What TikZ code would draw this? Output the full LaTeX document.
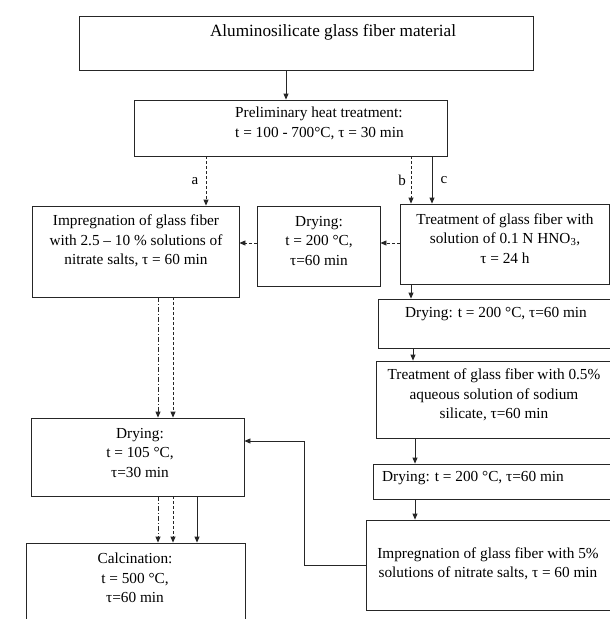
\documentclass[tikz,border=0pt]{standalone}
\usepackage{fontspec}
\setmainfont{Liberation Serif}
\usetikzlibrary{arrows.meta,fit}
\begin{document}
\begin{tikzpicture}[x=1pt,y=-1pt,
  boxst/.style={draw=black!85, line width=0.8pt, inner sep=0pt, fit={#1}},
  txt/.style={inner sep=0pt, align=center, font=\fontsize{15.3}{19.5}\selectfont},
  arr/.style={draw=black!85, line width=0.8pt, -{Triangle[length=6pt,width=5pt]}},
  dsh/.style={arr, dash pattern=on 3pt off 2pt},
  dshdot/.style={arr, dash pattern=on 5pt off 2pt on 1pt off 2pt},
  lbl/.style={inner sep=0pt, font=\fontsize{15}{18}\selectfont}]
\useasboundingbox (0,0) rectangle (610,619);
% boxes
\node[boxst={(79,16) (533,70)}] (b1) {};
\node[boxst={(134,100) (447,156)}] (b2) {};
\node[boxst={(32,206) (239,297)}] (b3) {};
\node[boxst={(257,206) (380,286)}] (dm) {};
\node[boxst={(400,204) (609,284)}] (hno) {};
\node[boxst={(378,299) (616,348)}] (d2) {};
\node[boxst={(376,361) (616,438)}] (sod) {};
\node[boxst={(373,464) (616,499)}] (d3) {};
\node[boxst={(366,520) (616,610)}] (imp5) {};
\node[boxst={(31,418) (244,496)}] (d105) {};
\node[boxst={(26,543) (245,626)}] (calc) {};
% texts
\node[txt, font=\fontsize{17.2}{20}\selectfont] (t1) at (333,32) {Aluminosilicate glass fiber material};
\node[txt, align=left, anchor=west] (t2) at (235,123.5) {Preliminary heat treatment:\\t = 100 - 700°C, τ = 30 min};
\node[txt] (t3) at (136,241) {Impregnation of glass fiber\\with 2.5 – 10 \% solutions of\\nitrate salts, τ = 60 min};
\node[txt] (tdm) at (319,241) {Drying:\\t = 200 °C,\\τ=60 min};
\node[txt] (thno) at (505,238.5) {Treatment of glass fiber with\\solution of 0.1 N HNO\textsubscript{3},\\τ = 24 h};
\node[txt] (td2) at (496,314) {Drying: t = 200 °C, τ=60 min};
\node[txt] (tsod) at (494,395) {Treatment of glass fiber with 0.5\%\\aqueous solution of sodium\\silicate, τ=60 min};
\node[txt] (td3) at (473,478) {Drying: t = 200 °C, τ=60 min};
\node[txt] (timp5) at (488,564) {Impregnation of glass fiber with 5\%\\solutions of nitrate salts, τ = 60 min};
\node[txt] (td105) at (140,453) {Drying:\\t = 105 °C,\\τ=30 min};
\node[txt] (tcalc) at (135,578) {Calcination:\\t = 500 °C,\\τ=60 min};
% labels
\node[lbl] (la) at (195,181) {a};
\node[lbl] (lb) at (402,180) {b};
\node[lbl] (lc) at (444,180) {c};
% x positions
\coordinate (x1) at (286,0);
\coordinate (xa) at (206,0);
\coordinate (xb) at (411,0);
\coordinate (xc) at (432,0);
\coordinate (xr1) at (411,0);
\coordinate (xr2) at (413,0);
\coordinate (xr3) at (415,0);
\coordinate (xl1) at (158,0);
\coordinate (xl2) at (173,0);
\coordinate (xl3) at (197,0);
\coordinate (ym) at (0,243);
\coordinate (fb) at (304,441);
% connectors
\draw[arr] (b1.south -| x1) -- (b2.north -| x1);
\draw[dsh] (b2.south -| xa) -- (b3.north -| xa);
\draw[dsh] (b2.south -| xb) -- (hno.north -| xb);
\draw[arr] (b2.south -| xc) -- (hno.north -| xc);
\draw[dsh] (hno.west |- ym) -- (dm.east |- ym);
\draw[dsh] (dm.west |- ym) -- (b3.east |- ym);
\draw[arr] (hno.south -| xr1) -- (d2.north -| xr1);
\draw[arr] (d2.south -| xr2) -- (sod.north -| xr2);
\draw[arr] (sod.south -| xr3) -- (d3.north -| xr3);
\draw[arr] (d3.south -| xr3) -- (imp5.north -| xr3);
\draw[arr] (imp5.west) -| (fb) -- (d105.east |- fb);
\draw[dshdot] (b3.south -| xl1) -- (d105.north -| xl1);
\draw[dsh] (b3.south -| xl2) -- (d105.north -| xl2);
\draw[dshdot] (d105.south -| xl1) -- (calc.north -| xl1);
\draw[dsh] (d105.south -| xl2) -- (calc.north -| xl2);
\draw[arr] (d105.south -| xl3) -- (calc.north -| xl3);
\end{tikzpicture}
\end{document}
